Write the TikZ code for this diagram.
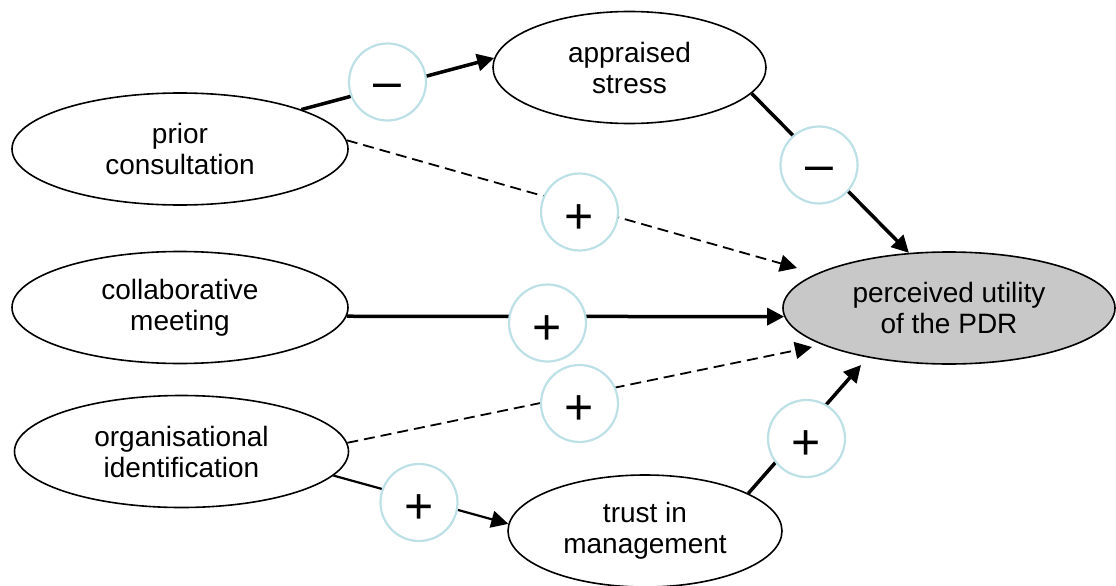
\documentclass[tikz,border=0pt]{standalone}
\usepackage{fontspec}
\setmainfont{Liberation Sans}
\usetikzlibrary{arrows.meta,shapes.geometric}
\definecolor{ringblue}{RGB}{188,224,230}
\definecolor{pufill}{RGB}{200,200,200}
\begin{document}
\begin{tikzpicture}[x=1pt,y=-1pt,
  var/.style={ellipse,draw,line width=1.6pt,inner sep=0pt,minimum height=112pt,align=center,font=\fontsize{28}{31}\selectfont},
  sign/.style={circle,draw=ringblue,line width=2.2pt,fill=white,minimum size=77pt,inner sep=0pt,font=\fontsize{50}{50}\selectfont},
  plussign/.style={sign,text height=42pt,text depth=0pt},
  minussign/.style={sign,text height=33pt,text depth=0pt},
  tip/.style={-{Triangle[length=17pt,width=17pt]}},
  strong/.style={tip,line width=3.5pt},
  weak/.style={tip,line width=2.2pt},
  hint/.style={tip,line width=1.8pt,dash pattern=on 11pt off 6pt}]
\useasboundingbox (0,0) rectangle (1116,586);

% variables
\node[var,minimum width=336pt] (pc) at (180,149) {prior\\consultation};
\node[var,minimum width=273pt] (as) at (629.5,67.5) {appraised\\stress};
\node[var,minimum width=336pt] (cm) at (180,307.5) {collaborative\\meeting};
\node[var,minimum width=334pt] (oi) at (181.5,451.5) {organisational\\identification};
\node[var,minimum width=274pt] (tm) at (645,531) {trust in\\management};
\node[var,minimum width=332pt,fill=pufill] (pu) at (949,308) {perceived utility\\of the PDR};

% free arrow ends
\coordinate (t1) at (797,268);
\coordinate (t2) at (812,347);
\coordinate (t3) at (861,365);

% connectors
\draw[strong] (pc.18.5) -- (as.176);
\draw[strong] (as.-12) -- (pu.126);
\draw[hint] (pc.3) -- (t1);
\draw[strong] (cm.-3) -- (pu.183);
\draw[hint] (oi.3.3) -- (t2);
\draw[weak] (oi.-9.5) -- (tm.177.5);
\draw[strong] (tm.20) -- (t3);

% signs
\node[minussign] (m1) at (387.5,82) {\textendash};
\node[plussign] (p1) at (579.5,212) {+};
\node[minussign] (m2) at (819,165) {\textendash};
\node[plussign] (p2) at (547.5,323) {+};
\node[plussign] (p3) at (579.5,403.5) {+};
\node[plussign] (p5) at (806.5,438.5) {+};
\node[plussign] (p4) at (419,502.5) {+};
\end{tikzpicture}
\end{document}
